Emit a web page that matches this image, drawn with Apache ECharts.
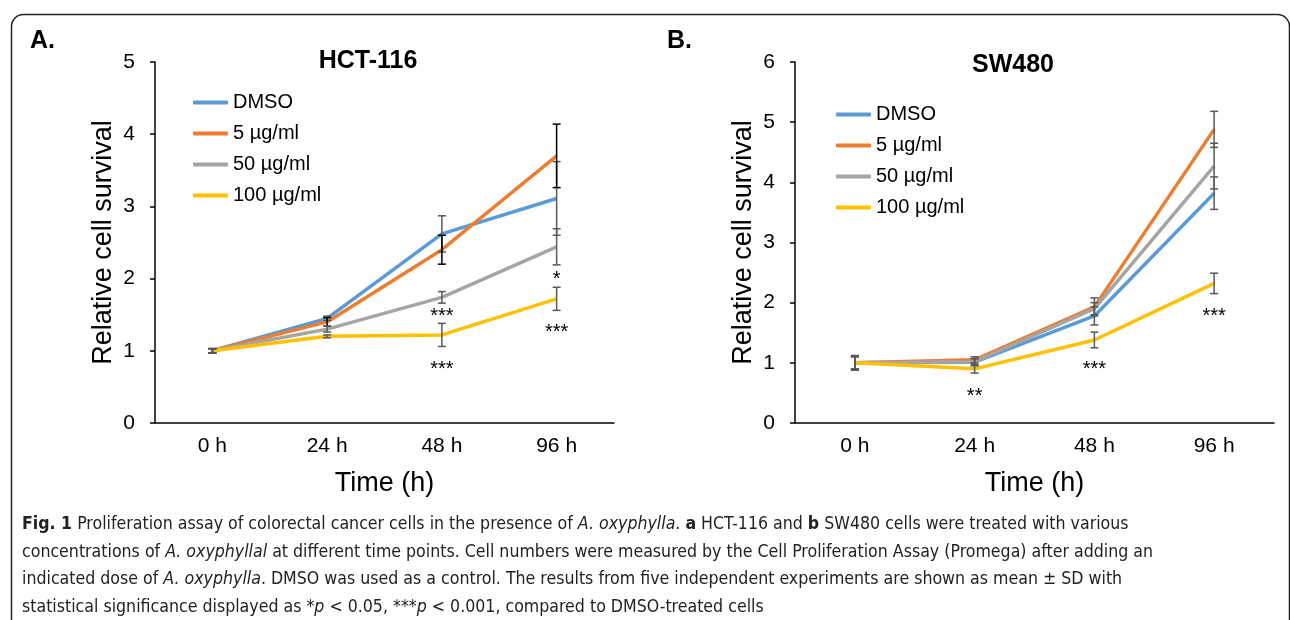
<!DOCTYPE html>
<html>
<head>
<meta charset="utf-8">
<script src="https://cdn.jsdelivr.net/npm/echarts@6/dist/echarts.min.js"></script>
<style>
  html, body { margin: 0; padding: 0; background: #fff; }
  #chart { width: 1290px; height: 620px; }
</style>
</head>
<body>
<div id="chart"></div>
<script>
// categories and names
const timeLabels = ['0 h', '24 h', '48 h', '96 h'];
const seriesNames = ['DMSO', '5 µg/ml', '50 µg/ml', '100 µg/ml'];
const lineColors = ['#5B9BD5', '#ED7D31', '#A5A5A5', '#FFC000'];

// HCT-116 means and SD
const hctDmso = [1.0, 1.45, 2.62, 3.11];
const hct5 = [1.0, 1.40, 2.40, 3.70];
const hct50 = [1.0, 1.30, 1.74, 2.44];
const hct100 = [1.0, 1.20, 1.22, 1.72];
const hctDmsoSd = [0.03, 0.03, 0.25, 0.51];
const hct5Sd = [0.03, 0.06, 0.20, 0.44];
const hct50Sd = [0.03, 0.04, 0.08, 0.25];
const hct100Sd = [0.03, 0.02, 0.16, 0.16];
const hctSig = [[2, 1.53, '***'], [2, 0.80, '***'], [3, 2.05, '*'], [3, 1.31, '***']];

// SW480 means and SD
const swDmso = [1.0, 1.01, 1.78, 3.82];
const sw5 = [1.0, 1.05, 1.93, 4.88];
const sw50 = [1.0, 1.02, 1.90, 4.27];
const sw100 = [1.0, 0.90, 1.38, 2.32];
const swDmsoSd = [0.12, 0.06, 0.15, 0.27];
const sw5Sd = [0.10, 0.05, 0.15, 0.30];
const sw50Sd = [0.10, 0.05, 0.10, 0.38];
const sw100Sd = [0.12, 0.07, 0.13, 0.17];
const swSig = [[1, 0.51, '**'], [2, 0.96, '***'], [3, 1.84, '***']];

const hctMeans = [hctDmso, hct5, hct50, hct100];
const hctSds = [hctDmsoSd, hct5Sd, hct50Sd, hct100Sd];
const swMeans = [swDmso, sw5, sw50, sw100];
const swSds = [swDmsoSd, sw5Sd, sw50Sd, sw100Sd];

const FONT = 'Liberation Sans, Arial, sans-serif';

function xAxisFor(gridIndex) {
  return {
    type: 'category', gridIndex: gridIndex, data: timeLabels,
    name: 'Time (h)', nameLocation: 'middle', nameGap: 47,
    nameTextStyle: { fontFamily: FONT, fontSize: 27, color: '#000' },
    axisLine: { lineStyle: { color: '#000', width: 1.5 } },
    axisTick: { show: false },
    axisLabel: { fontFamily: FONT, fontSize: 21, color: '#000', margin: 13 },
    splitLine: { show: false }
  };
}

function yAxisFor(gridIndex, max) {
  return {
    type: 'value', gridIndex: gridIndex, min: 0, max: max, interval: 1,
    name: 'Relative cell survival', nameLocation: 'middle', nameGap: 38,
    nameTextStyle: { fontFamily: FONT, fontSize: 27, color: '#000' },
    axisLine: { show: true, lineStyle: { color: '#000', width: 1.5 } },
    axisTick: { show: true, length: 5, lineStyle: { color: '#000', width: 1.5 } },
    axisLabel: { fontFamily: FONT, fontSize: 21, color: '#000', margin: 20 },
    splitLine: { show: false }
  };
}

function errorSeries(idx, means, sds, color) {
  return {
    type: 'custom', xAxisIndex: idx, yAxisIndex: idx, z: 3,
    silent: true,
    data: means.map((m, i) => [i, m, sds[i]]),
    renderItem: function (params, api) {
      const i = api.value(0), m = api.value(1), s = api.value(2);
      const top = api.coord([i, m + s]);
      const bot = api.coord([i, m - s]);
      const w = 4;
      const style = { stroke: color, lineWidth: 1.5 };
      return {
        type: 'group',
        children: [
          { type: 'line', shape: { x1: top[0], y1: top[1], x2: bot[0], y2: bot[1] }, style: style },
          { type: 'line', shape: { x1: top[0] - w, y1: top[1], x2: top[0] + w, y2: top[1] }, style: style },
          { type: 'line', shape: { x1: bot[0] - w, y1: bot[1], x2: bot[0] + w, y2: bot[1] }, style: style }
        ]
      };
    }
  };
}

function sigSeries(idx, marks) {
  return {
    type: 'custom', xAxisIndex: idx, yAxisIndex: idx, z: 4, silent: true,
    data: marks,
    renderItem: function (params, api) {
      const p = api.coord([api.value(0), api.value(1)]);
      return {
        type: 'text',
        style: {
          x: p[0], y: p[1] + 4, text: marks[params.dataIndex][2],
          fontFamily: FONT, fontSize: 20, fill: '#000',
          align: 'center', verticalAlign: 'middle'
        }
      };
    }
  };
}

const series = [];
[[0, hctMeans, hctSds, ['#595959', '#000000', '#595959', '#595959']],
 [1, swMeans, swSds, ['#595959', '#595959', '#595959', '#595959']]].forEach(function (cfg) {
  const idx = cfg[0];
  cfg[1].forEach(function (vals, k) {
    series.push({
      name: seriesNames[k], type: 'line', xAxisIndex: idx, yAxisIndex: idx,
      data: vals, showSymbol: false, symbol: 'none', z: 2,
      lineStyle: { color: lineColors[k], width: 3.5 },
      itemStyle: { color: lineColors[k] }
    });
  });
  cfg[1].forEach(function (vals, k) {
    series.push(errorSeries(idx, vals, cfg[2][k], cfg[3][k]));
  });
});
series.push(sigSeries(0, hctSig));
series.push(sigSeries(1, swSig));

function legendFor(left, top) {
  return {
    orient: 'vertical', left: left, top: top,
    data: seriesNames, icon: 'roundRect', itemWidth: 35, itemHeight: 4,
    itemGap: 10, selectedMode: false,
    textStyle: { fontFamily: FONT, fontSize: 20, color: '#000', lineHeight: 21 }
  };
}

const caption =
  '{b|Fig. 1} Proliferation assay of colorectal cancer cells in the presence of {i|A. oxyphylla}. {b|a} HCT-116 and {b|b} SW480 cells were treated with various\n' +
  'concentrations of {i|A. oxyphyllal} at different time points. Cell numbers were measured by the Cell Proliferation Assay (Promega) after adding an\n' +
  'indicated dose of {i|A. oxyphylla}. DMSO was used as a control. The results from five independent experiments are shown as mean ± SD with\n' +
  'statistical significance displayed as *{i|p} < 0.05, ***{i|p} < 0.001, compared to DMSO-treated cells';
const CAP_FONT = '"Liberation Sans Narrow", "DejaVu Sans Condensed", sans-serif';
const CAP_SIZE = 17.6;

const chart = echarts.init(document.getElementById('chart'));
chart.setOption({
  backgroundColor: '#fff',
  animation: false,
  title: [
    { text: 'HCT-116', left: 363, top: 44, textAlign: 'center',
      textStyle: { fontFamily: FONT, fontSize: 25, fontWeight: 'bold', color: '#000' } },
    { text: 'SW480', left: 1008, top: 48, textAlign: 'center',
      textStyle: { fontFamily: FONT, fontSize: 25, fontWeight: 'bold', color: '#000' } }
  ],
  legend: [legendFor(188, 87), legendFor(831, 99)],
  grid: [
    { left: 155, top: 62, width: 459, height: 361 },
    { left: 795, top: 62, width: 479, height: 361 }
  ],
  xAxis: [xAxisFor(0), xAxisFor(1)],
  yAxis: [yAxisFor(0, 5), yAxisFor(1, 6)],
  series: series,
  graphic: [
    { type: 'rect', left: 9, top: 12, silent: true,
      shape: { width: 1278, height: 700, r: 12 },
      style: { fill: 'none', stroke: '#222', lineWidth: 1.5 } },
    { type: 'text', left: 30, top: 29,
      style: { text: 'A.', fontFamily: FONT, fontSize: 25, fontWeight: 'bold', fill: '#000' } },
    { type: 'text', left: 667, top: 29,
      style: { text: 'B.', fontFamily: FONT, fontSize: 25, fontWeight: 'bold', fill: '#000' } },
    { type: 'text', left: 22, top: 511,
      style: {
        text: caption, fontFamily: CAP_FONT, fontSize: CAP_SIZE, fill: '#222', lineHeight: 27.5,
        rich: {
          b: { fontFamily: CAP_FONT, fontSize: CAP_SIZE, fontWeight: 'bold', fill: '#222', lineHeight: 27.5 },
          i: { fontFamily: CAP_FONT, fontSize: CAP_SIZE, fontStyle: 'italic', fill: '#222', lineHeight: 27.5 }
        }
      } }
  ]
});
</script>
</body>
</html>
